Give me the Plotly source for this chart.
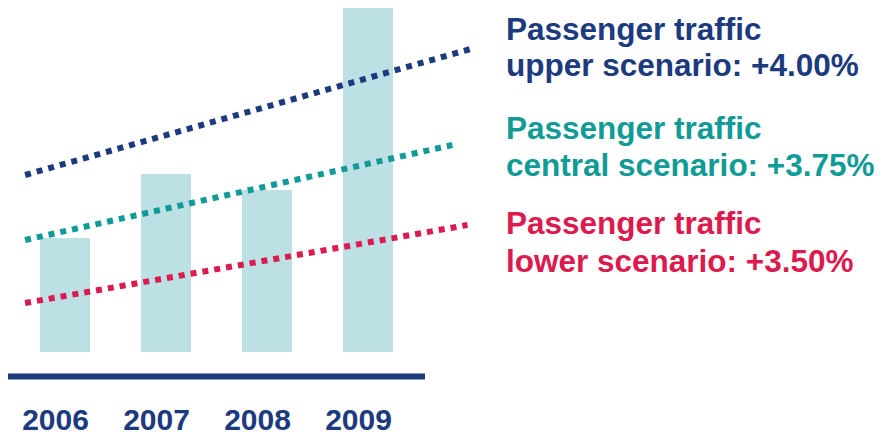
import plotly.graph_objects as go

# ---- data ----
years = [2006, 2007, 2008, 2009]
traffic = [114, 178, 162, 344]          # relative passenger traffic (bar heights)

upper_x = [2005.61, 2010.02]
upper_y = [177, 303]
central_x = [2005.61, 2009.84]
central_y = [112, 207]
lower_x = [2005.61, 2009.99]
lower_y = [49, 127]

labels = [
    ("Passenger traffic", "upper scenario: +4.00%"),
    ("Passenger traffic", "central scenario: +3.75%"),
    ("Passenger traffic", "lower scenario: +3.50%"),
]

NAVY = "#1c3a7e"
TEAL = "#109b97"
RED = "#dc1a4e"
BAR = "#bce0e3"
FONT = "Liberation Sans, Arial, sans-serif"

W, H = 885, 437
B = 45
plot_h = H - B
px_per_year = 101.0
x0 = years[0] - 64.5 / px_per_year
x1 = x0 + W / px_per_year

fig = go.Figure()
fig.add_trace(go.Bar(x=years, y=traffic, width=50 / px_per_year,
                     marker=dict(color=BAR, line=dict(width=0)), showlegend=False))
for xs, ys, c in [(upper_x, upper_y, NAVY), (central_x, central_y, TEAL), (lower_x, lower_y, RED)]:
    fig.add_trace(go.Scatter(x=xs, y=ys, mode="lines",
                             line=dict(color=c, width=6, dash="dot"), showlegend=False))

# baseline
fig.add_shape(type="line", xref="paper", yref="y", x0=8 / W, x1=425 / W, y0=-24.5, y1=-24.5,
              line=dict(color=NAVY, width=6))

# right-hand text
colors = [NAVY, TEAL, RED]
line_centers = [(29, 65), (127.5, 165.5), (223, 260.5)]
for (l1, l2), c, (c1, c2) in zip(labels, colors, line_centers):
    for txt, cy in [(l1, c1), (l2, c2)]:
        fig.add_annotation(text=txt, xref="paper", yref="paper", x=504 / W, y=1 - cy / plot_h,
                           xanchor="left", yanchor="middle", showarrow=False,
                           font=dict(family=FONT, size=31.5, color=c, weight="bold"))

fig.update_layout(
    width=W, height=H,
    margin=dict(l=0, r=0, t=0, b=B),
    paper_bgcolor="white", plot_bgcolor="white",
    xaxis=dict(range=[x0, x1], tickvals=years, ticktext=[str(y) for y in years],
               showgrid=False, zeroline=False, showline=False, ticks="", automargin=False,
               tickfont=dict(family=FONT, size=30, color=NAVY, weight="bold"),
               ticklabelshift=-9, ticklabelstandoff=7),
    yaxis=dict(range=[B - 85, 352], visible=False, showgrid=False, zeroline=False,
               automargin=False),
    bargap=0,
)

fig.write_html("out.html")
